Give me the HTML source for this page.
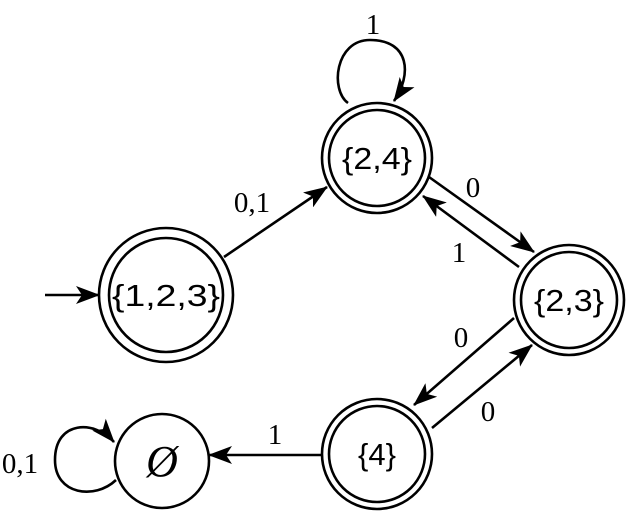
<!DOCTYPE html>
<html><head><meta charset="utf-8"><style>html,body{margin:0;padding:0;background:#fff;}svg{display:block}</style></head>
<body>
<svg width="626" height="512" viewBox="0 0 626 512" xmlns="http://www.w3.org/2000/svg">
<defs>
<marker id="a" viewBox="0 0 24 18" refX="23" refY="9" markerWidth="24" markerHeight="18" markerUnits="userSpaceOnUse" orient="auto">
<path d="M0,0 L24,9 L0,18 L6,9 Z" fill="#000"/>
</marker>
</defs>
<g fill="none" stroke="#000" stroke-width="2.6">
<circle cx="166" cy="295" r="67"/><circle cx="166" cy="295" r="57"/>
<circle cx="377" cy="158" r="55"/><circle cx="377" cy="158" r="48"/>
<circle cx="569" cy="300" r="55"/><circle cx="569" cy="300" r="48"/>
<circle cx="377" cy="454" r="55"/><circle cx="377" cy="454" r="48"/>
<circle cx="162" cy="461" r="47"/>
<line x1="45" y1="295" x2="99" y2="295" marker-end="url(#a)"/>
<line x1="224" y1="257" x2="327" y2="187" marker-end="url(#a)"/>
<line x1="429" y1="177" x2="534" y2="252" marker-end="url(#a)"/>
<line x1="519" y1="267" x2="423" y2="196" marker-end="url(#a)"/>
<line x1="514" y1="318" x2="414" y2="405" marker-end="url(#a)"/>
<line x1="432" y1="428" x2="532" y2="345" marker-end="url(#a)"/>
<line x1="322" y1="455" x2="209" y2="455" marker-end="url(#a)"/>
<path d="M348,103 C330,90 335,40 370,40 C410,40 412,75 394,101" marker-end="url(#a)"/>
<path d="M116,480 C95,500 55,495 55,460 C55,420 95,420 114,442" marker-end="url(#a)"/>
</g>
<g font-family="'Liberation Sans',sans-serif" font-size="31" text-anchor="middle" textLength="">
<text x="166" y="306" textLength="108" lengthAdjust="spacingAndGlyphs">{1,2,3}</text>
<text x="377" y="169" textLength="70" lengthAdjust="spacingAndGlyphs">{2,4}</text>
<text x="569" y="311" textLength="70" lengthAdjust="spacingAndGlyphs">{2,3}</text>
<text x="377" y="465">{4}</text>
<text x="162" y="476" font-family="'Liberation Serif',serif" font-style="italic" font-size="44">Ø</text>
</g>
<g font-family="'Liberation Serif',serif" font-size="29" text-anchor="middle">
<text x="373" y="34">1</text>
<text x="252" y="212">0,1</text>
<text x="473" y="197">0</text>
<text x="459" y="262">1</text>
<text x="461" y="347">0</text>
<text x="488" y="421">0</text>
<text x="275" y="444">1</text>
<text x="20" y="473">0,1</text>
</g>
</svg>
</body></html>
